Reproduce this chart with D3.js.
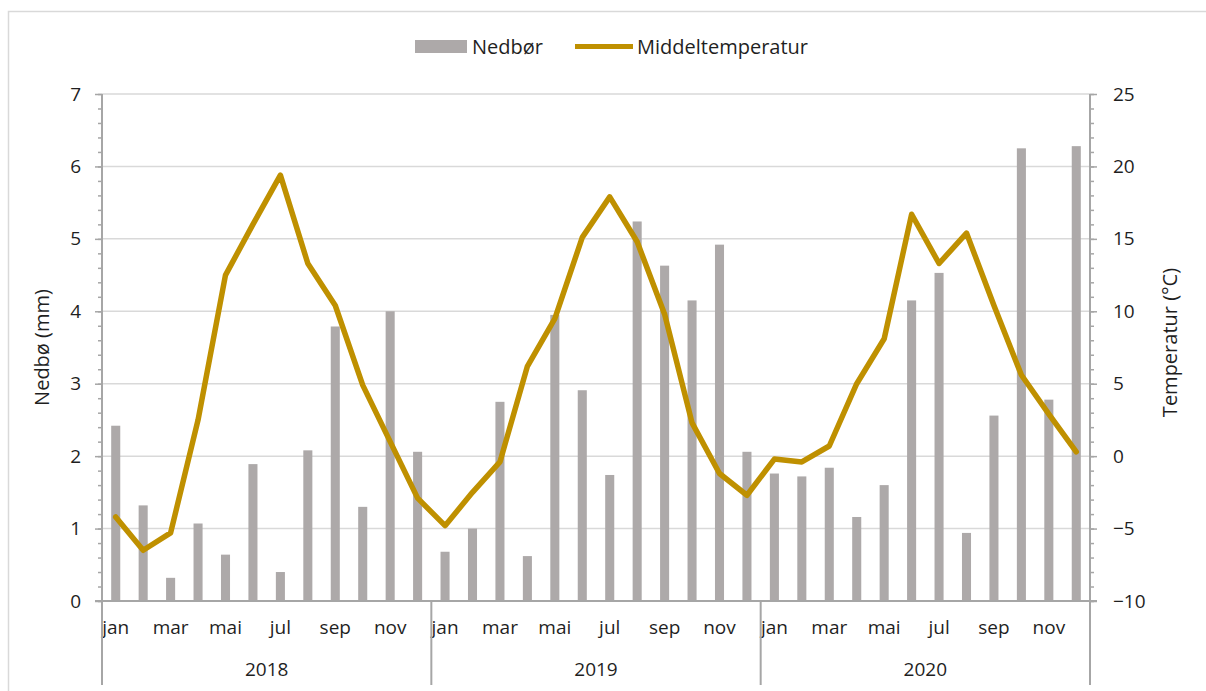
<!DOCTYPE html>
<html>
<head>
<meta charset="utf-8">
<script src="https://cdn.jsdelivr.net/npm/d3@7"></script>
<style>
  html, body { margin: 0; padding: 0; background: #fff; }
  svg { display: block; }
  text { font-family: "Open Sans", "Noto Sans", sans-serif; fill: #1f1f1f; }
</style>
</head>
<body>
<svg id="chart" width="1206" height="691"></svg>
<script>
// ---- data ----
const monthNames = ["jan","feb","mar","apr","mai","jun","jul","aug","sep","okt","nov","des"];
const years = ["2018","2019","2020"];
const precip = [
  2.42, 1.32, 0.32, 1.07, 0.64, 1.89, 0.40, 2.08, 3.79, 1.30, 4.00, 2.06,
  0.68, 1.00, 2.75, 0.62, 3.95, 2.91, 1.74, 5.24, 4.63, 4.15, 4.92, 2.06,
  1.76, 1.72, 1.84, 1.16, 1.60, 4.15, 4.53, 0.94, 2.56, 6.25, 2.78, 6.28
];
const temperature = [
  -4.2, -6.5, -5.3, 2.5, 12.5, 16.0, 19.4, 13.3, 10.4, 4.9, 1.0, -2.9,
  -4.8, -2.5, -0.4, 6.2, 9.5, 15.1, 17.9, 14.8, 9.8, 2.3, -1.2, -2.7,
  -0.2, -0.4, 0.7, 5.0, 8.1, 16.7, 13.3, 15.4, 10.4, 5.6, 2.9, 0.3
];
const leftTicks = [0,1,2,3,4,5,6,7];
const rightTicks = [-10,-5,0,5,10,15,20,25];
const seriesNames = ["Nedbør", "Middeltemperatur"];
const leftTitle = "Nedbø (mm)";
const rightTitle = "Temperatur (°C)";

// ---- layout ----
const L = 102, R = 1090, T = 94, B = 601;
const barColor = "#ADA9A9", lineColor = "#BF9000", gridColor = "#D9D9D9", axisColor = "#A6A6A6";
const tickFont = 19, titleFont = 20;

const svg = d3.select("#chart");

// outer frame
svg.append("rect").attr("x", 8.5).attr("y", 11.5).attr("width", 1210).attr("height", 700)
  .attr("fill", "none").attr("stroke", "#D9D9D9").attr("stroke-width", 1.5);

const idx = d3.range(precip.length);
const x = d3.scaleBand().domain(idx).range([L, R]).paddingInner(0.67).paddingOuter(0.335);
const yL = d3.scaleLinear().domain([0, 7]).range([B, T]);
const yR = d3.scaleLinear().domain([-10, 25]).range([B, T]);

// gridlines
svg.append("g").selectAll("line").data(leftTicks.filter(d => d > 0)).join("line")
  .attr("x1", L).attr("x2", R).attr("y1", d => yL(d)).attr("y2", d => yL(d))
  .attr("stroke", gridColor).attr("stroke-width", 1.5);

// bars
svg.append("g").selectAll("rect").data(idx).join("rect")
  .attr("x", i => x(i)).attr("width", x.bandwidth())
  .attr("y", i => yL(precip[i])).attr("height", i => yL(0) - yL(precip[i]))
  .attr("fill", barColor);

// left axis
const gLminor = svg.append("g").attr("transform", `translate(${L},0)`)
  .call(d3.axisLeft(yL).tickValues(d3.range(0, 7.001, 0.2)).tickSize(4).tickFormat(""));
const gL = svg.append("g").attr("transform", `translate(${L},0)`)
  .call(d3.axisLeft(yL).tickValues(leftTicks).tickSize(7).tickPadding(14).tickFormat(d3.format("d")));
// right axis
const gRminor = svg.append("g").attr("transform", `translate(${R},0)`)
  .call(d3.axisRight(yR).tickValues(d3.range(-10, 25.001, 1)).tickSize(4).tickFormat(""));
const gR = svg.append("g").attr("transform", `translate(${R},0)`)
  .call(d3.axisRight(yR).tickValues(rightTicks).tickSize(7).tickPadding(16).tickFormat(d3.format("d")));

[gLminor, gL, gRminor, gR].forEach(g => {
  g.select(".domain").attr("stroke", axisColor).attr("stroke-width", 2);
  g.selectAll(".tick line").attr("stroke", axisColor).attr("stroke-width", 1.5);
  g.selectAll("text").attr("font-size", tickFont).attr("fill", "#1f1f1f")
    .style("font-family", '"Open Sans", sans-serif');
});
gL.select(".domain").attr("d", `M0,${T}V${B}`);
gR.select(".domain").attr("d", `M0,${T}V${B}`);
gLminor.select(".domain").remove();
gRminor.select(".domain").remove();

// bottom category axis (months)
const gX = svg.append("g").attr("transform", `translate(0,${B})`)
  .call(d3.axisBottom(x).tickSize(0).tickPadding(20)
    .tickFormat(i => i % 2 === 0 ? monthNames[i % 12] : ""));
gX.select(".domain").remove();
gX.selectAll("text").attr("font-size", tickFont).attr("fill", "#1f1f1f")
  .style("font-family", '"Open Sans", sans-serif');

// baseline
svg.append("line").attr("x1", L - 7).attr("x2", R + 7).attr("y1", B).attr("y2", B)
  .attr("stroke", axisColor).attr("stroke-width", 2);

// year separators and labels
const sepX = [L, x(12) - (x.step() - x.bandwidth()) / 2, x(24) - (x.step() - x.bandwidth()) / 2, R];
svg.append("g").selectAll("line").data(sepX).join("line")
  .attr("x1", d => d).attr("x2", d => d).attr("y1", B).attr("y2", 685)
  .attr("stroke", axisColor).attr("stroke-width", 2);
svg.append("g").selectAll("text").data(years).join("text")
  .attr("x", (d, i) => (sepX[i] + sepX[i + 1]) / 2).attr("y", 676)
  .attr("text-anchor", "middle").attr("font-size", tickFont).text(d => d);

// temperature line
const line = d3.line().x(i => x(i) + x.bandwidth() / 2).y(i => yR(temperature[i]));
svg.append("path").datum(idx).attr("d", line)
  .attr("fill", "none").attr("stroke", lineColor).attr("stroke-width", 5.5)
  .attr("stroke-linejoin", "round").attr("stroke-linecap", "round");

// axis titles
svg.append("text").attr("transform", `translate(49,${(T + B) / 2}) rotate(-90)`)
  .attr("text-anchor", "middle").attr("font-size", titleFont).text(leftTitle);
svg.append("text").attr("transform", `translate(1177,${(T + B) / 2 - 5}) rotate(-90)`)
  .attr("text-anchor", "middle").attr("font-size", titleFont).text(rightTitle);

// legend
const lg = svg.append("g");
lg.append("rect").attr("x", 415).attr("y", 40).attr("width", 52).attr("height", 13).attr("fill", barColor);
lg.append("text").attr("x", 472).attr("y", 54).attr("font-size", titleFont).text(seriesNames[0]);
lg.append("line").attr("x1", 575).attr("x2", 633).attr("y1", 46.5).attr("y2", 46.5)
  .attr("stroke", lineColor).attr("stroke-width", 5);
lg.append("text").attr("x", 637).attr("y", 54).attr("font-size", titleFont).text(seriesNames[1]);
</script>
</body>
</html>
